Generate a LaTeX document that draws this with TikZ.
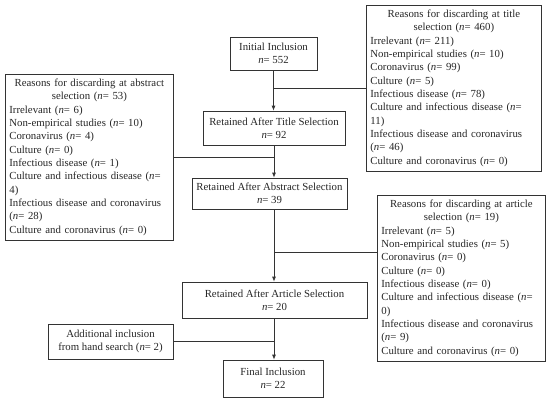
\documentclass[tikz,border=0pt]{standalone}
\usepackage{fontspec}
\setmainfont{Liberation Serif}
\usetikzlibrary{arrows.meta}
\begin{document}
\begin{tikzpicture}[x=1pt,y=1pt,
  every node/.style={font=\fontsize{10.8}{13.35}\selectfont, text=black!85},
  mainbox/.style={draw=black!80, line width=0.75pt, inner sep=0pt, align=center},
  reasonbox/.style={draw=black!80, line width=0.75pt, inner xsep=4pt, inner ysep=4.5pt, text width=#1, anchor=north west},
  link/.style={draw=black!80, line width=0.75pt},
  arr/.style={draw=black!80, line width=0.75pt, -{Latex[length=5pt,width=4pt]}}]
\useasboundingbox (0,0) rectangle (550,-400);
% main column
\node[mainbox, minimum width=87pt, minimum height=33pt] (init) at (273.5,-53.5) {Initial Inclusion\\\textit{n}= 552};
\node[mainbox, minimum width=142pt, minimum height=34pt] (title) at (274,-128) {Retained After Title Selection\\\textit{n}= 92};
\node[mainbox, minimum width=155pt, minimum height=31pt] (abs) at (269.5,-193.5) {Retained After Abstract Selection\\\textit{n}= 39};
\node[mainbox, minimum width=185pt, minimum height=36pt] (art) at (274.5,-300) {Retained After Article Selection\\\textit{n}= 20};
\node[mainbox, minimum width=100pt, minimum height=37pt] (final) at (273,-378.5) {Final Inclusion\\\textit{n}= 22};
\node[mainbox, minimum width=125pt, minimum height=35pt] (add) at (110.5,-341.5) {Additional inclusion\\from hand search (\textit{n}= 2)};
% reasons boxes
\node[reasonbox=167pt] (tr) at (366,-5) {{\centering Reasons for discarding at title\\selection (\textit{n}= 460)\par}\raggedright
Irrelevant (\textit{n}= 211)\\
Non-empirical studies (\textit{n}= 10)\\
Coronavirus (\textit{n}= 99)\\
Culture (\textit{n}= 5)\\
Infectious disease (\textit{n}= 78)\\
Culture and infectious disease (\textit{n}=\\
11)\\
Infectious disease and coronavirus\\
(\textit{n}= 46)\\
Culture and coronavirus (\textit{n}= 0)};
\node[reasonbox=160pt] (ar) at (5,-74) {{\centering Reasons for discarding at abstract\\selection (\textit{n}= 53)\par}\raggedright
Irrelevant (\textit{n}= 6)\\
Non-empirical studies (\textit{n}= 10)\\
Coronavirus (\textit{n}= 4)\\
Culture (\textit{n}= 0)\\
Infectious disease (\textit{n}= 1)\\
Culture and infectious disease (\textit{n}=\\
4)\\
Infectious disease and coronavirus\\
(\textit{n}= 28)\\
Culture and coronavirus (\textit{n}= 0)};
\node[reasonbox=160pt] (artr) at (377,-195) {{\centering Reasons for discarding at article\\selection (\textit{n}= 19)\par}\raggedright
Irrelevant (\textit{n}= 5)\\
Non-empirical studies (\textit{n}= 5)\\
Coronavirus (\textit{n}= 0)\\
Culture (\textit{n}= 0)\\
Infectious disease (\textit{n}= 0)\\
Culture and infectious disease (\textit{n}=\\
0)\\
Infectious disease and coronavirus\\
(\textit{n}= 9)\\
Culture and coronavirus (\textit{n}= 0)};
% connectors
\draw[arr] (init.south) -- (init.south |- title.north);
\draw[arr] (title.south) -- (title.south |- abs.north);
\draw[arr] (title.south |- abs.south) -- (title.south |- art.north);
\draw[arr] (title.south |- art.south) -- (title.south |- final.north);
\draw[link] (tr.west) -- (tr.west -| init.south);
\draw[link] (ar.east) -- (ar.east -| title.south);
\draw[link] ([yshift=26pt]artr.west) -- ([yshift=26pt]artr.west -| title.south);
\draw[link] (add.east) -- (add.east -| title.south);
\end{tikzpicture}
\end{document}
